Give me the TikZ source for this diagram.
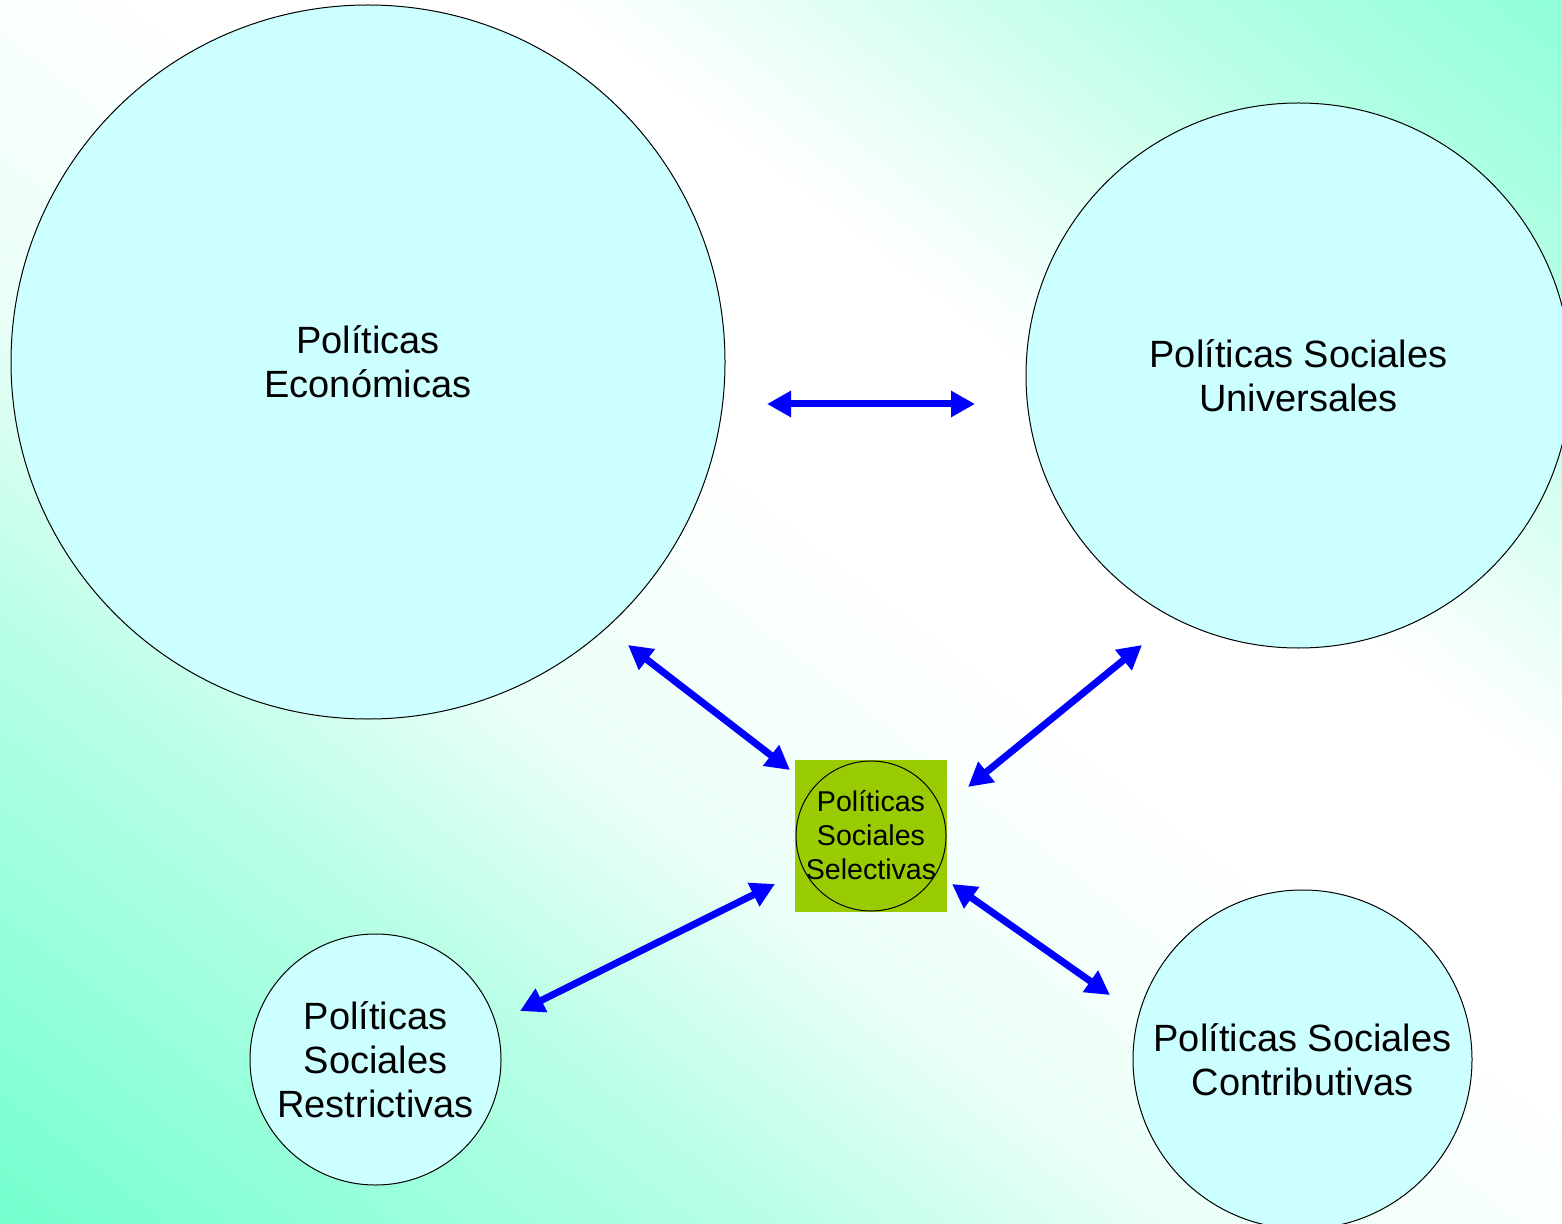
\documentclass[tikz,border=0pt]{standalone}
\usepackage{fontspec}
\setmainfont{Liberation Sans}
\usetikzlibrary{arrows.meta}

\definecolor{aqua}{RGB}{115,255,205}
\definecolor{pale}{RGB}{204,255,255}
\definecolor{olive}{RGB}{153,204,0}

\pgfdeclareverticalshading{bgshade}{100bp}{%
  color(0bp)=(aqua); color(25bp)=(aqua); color(37.5bp)=(aqua!50!white);
  color(43.75bp)=(aqua!15!white); color(52.5bp)=(white); color(58.75bp)=(white);
  color(62.5bp)=(aqua!18!white); color(68.25bp)=(aqua!50!white);
  color(75bp)=(aqua!80!white); color(100bp)=(aqua!80!white)}

\begin{document}
\begin{tikzpicture}[x=0.5pt,y=-0.5pt,
  bubble/.style={circle,draw=black,line width=0.5pt,fill=pale,inner sep=0pt,
    align=center,font=\fontsize{19pt}{22pt}\selectfont},
  link/.style={{Triangle[length=12pt,width=12.5pt]}-{Triangle[length=12pt,width=12.5pt]},
    draw=blue,line width=3.5pt}]

% Background
\useasboundingbox (0,0) rectangle (1562,1224);
\clip (0,0) rectangle (1562,1224);
\begin{scope}[transform canvas={shift={(781,612)},rotate=-38.08}]
  \shade[shading=bgshade] (-560pt,-482pt) rectangle (560pt,482pt);
\end{scope}

% Circles
\node[bubble,minimum size=357pt] (eco) at (368,362) {Políticas\\Económicas};
\node[bubble,minimum size=272.5pt] (univ) at (1298.5,375.5) {Políticas Sociales\\Universales};
\node[bubble,minimum size=125.5pt] (restr) at (375.5,1059.5) {Políticas\\Sociales\\Restrictivas};
\node[bubble,minimum size=169.5pt] (contr) at (1302.5,1059.5) {Políticas Sociales\\Contributivas};

% Centre
\node[fill=olive,minimum size=76pt,inner sep=0pt] (box) at (871,836) {};
\node[circle,draw=black,line width=0.5pt,minimum size=75pt,inner sep=0pt] (selec) at (871,836) {};
\node[align=center,inner sep=0pt,font=\fontsize{14.3pt}{17pt}\selectfont] (selecText) at (871,835)
  {Políticas\\Sociales\\Selectivas};

% Arrow ends
\coordinate (a1) at (767,404);
\coordinate (b1) at (975,404);
\coordinate (a2) at (628,645);
\coordinate (b2) at (790,770);
\coordinate (a3) at (1142,645);
\coordinate (b3) at (968,787);
\coordinate (a4) at (775,884);
\coordinate (b4) at (520,1011);
\coordinate (a5) at (952,884);
\coordinate (b5) at (1110,995);

% Arrows
\draw[link] (a1) -- (b1);
\draw[link] (a2) -- (b2);
\draw[link] (a3) -- (b3);
\draw[link] (a4) -- (b4);
\draw[link] (a5) -- (b5);

\end{tikzpicture}
\end{document}
